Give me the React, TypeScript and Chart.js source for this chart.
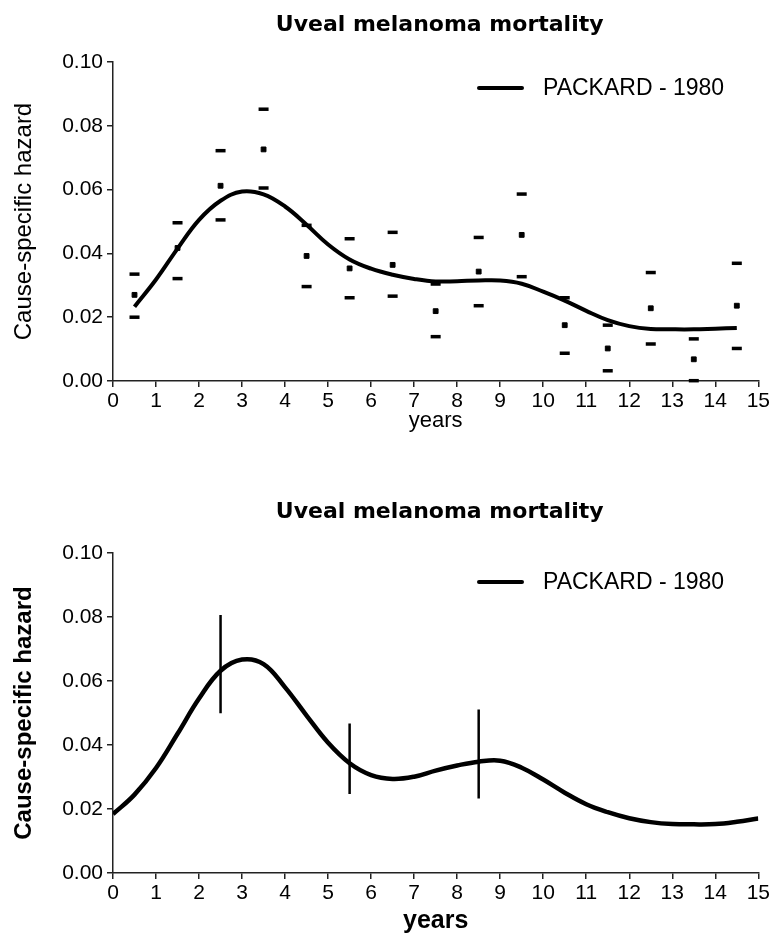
import React, { useEffect, useRef } from 'react';
import { Chart, registerables } from 'chart.js';

Chart.register(...registerables);

// ---------- DATA ----------
const chartTitle = 'Uveal melanoma mortality';
const legendLabel = 'PACKARD - 1980';
const xAxisLabel = 'years';
const yAxisLabel = 'Cause-specific hazard';

// Top chart: yearly estimates with upper/lower limits
const intervalYears = [0.5, 1.5, 2.5, 3.5, 4.5, 5.5, 6.5, 7.5, 8.5, 9.5, 10.5, 11.5, 12.5, 13.5, 14.5];
const upperTop = [0.0335, 0.0496, 0.0722, 0.0852, 0.0488, 0.0446, 0.0466, 0.0304, 0.045, 0.0586, 0.0261, 0.0175, 0.034, 0.0132, 0.0369];
const estimateTop = [0.027, 0.0417, 0.0612, 0.0726, 0.0392, 0.0353, 0.0364, 0.0219, 0.0343, 0.0458, 0.0175, 0.0102, 0.0228, 0.0068, 0.0236];
const lowerTop = [0.02, 0.0321, 0.0505, 0.0605, 0.0296, 0.0261, 0.0266, 0.0139, 0.0236, 0.0327, 0.0087, 0.0032, 0.0116, 0.0001, 0.0102];

// Top chart: smoothed hazard curve
const curveTopYears = [0.5, 1, 1.5, 2, 2.5, 3, 3.5, 4, 4.5, 5, 5.5, 6, 6.5, 7, 7.5, 8, 8.5, 9, 9.5, 10, 10.5, 11, 11.5, 12, 12.5, 13, 13.5, 14, 14.5];
const curveTopValues = [0.0233, 0.0318, 0.0415, 0.0505, 0.0565, 0.0594, 0.0585, 0.0547, 0.049, 0.0428, 0.0381, 0.0352, 0.0333, 0.032, 0.0312, 0.0313, 0.0315, 0.0315, 0.0305, 0.028, 0.0252, 0.022, 0.0191, 0.0172, 0.0163, 0.0162, 0.0162, 0.0164, 0.0166];

// Bottom chart: smoothed hazard curve
const curveBottomYears = [0, 0.5, 1, 1.5, 2, 2.5, 3, 3.5, 4, 4.5, 5, 5.5, 6, 6.5, 7, 7.5, 8, 8.5, 9, 9.5, 10, 10.5, 11, 11.5, 12, 12.5, 13, 13.5, 14, 14.5, 15];
const curveBottomValues = [0.0184, 0.0245, 0.0328, 0.0435, 0.0545, 0.0632, 0.0667, 0.0653, 0.058, 0.0492, 0.0407, 0.0343, 0.0306, 0.0294, 0.0301, 0.032, 0.0336, 0.0348, 0.0351, 0.0329, 0.0292, 0.0251, 0.0215, 0.019, 0.0171, 0.0159, 0.0153, 0.0152, 0.0153, 0.016, 0.017];

// Bottom chart: confidence bars
const barYears = [2.5, 5.5, 8.5];
const barLow = [0.0499, 0.0247, 0.0233];
const barHigh = [0.0806, 0.0467, 0.0511];

// Axis ticks
const xMin = 0;
const xMax = 15;
const xStep = 1;
const yMin = 0;
const yMax = 0.1;
const yStep = 0.02;

// ---------- STYLE ----------
const SANS = '"Liberation Sans", Arial, sans-serif';
const TITLE_FONT = '"DejaVu Sans", Verdana, sans-serif';

function overlayPlugin(titleY: number, legendY: number) {
  return {
    id: 'overlay',
    afterDraw(chart: any) {
      const ctx = chart.ctx;
      const a = chart.chartArea;
      ctx.save();
      ctx.fillStyle = '#000';
      ctx.font = 'bold 22px ' + TITLE_FONT;
      ctx.textAlign = 'center';
      ctx.textBaseline = 'middle';
      ctx.fillText(chartTitle, (a.left + a.right) / 2 + 4, titleY);
      ctx.strokeStyle = '#000';
      ctx.lineWidth = 4;
      ctx.lineCap = 'round';
      ctx.beginPath();
      ctx.moveTo(479, legendY);
      ctx.lineTo(522, legendY);
      ctx.stroke();
      ctx.font = '23px ' + SANS;
      ctx.textAlign = 'left';
      ctx.fillText(legendLabel, 543, legendY + 1);
      ctx.restore();
    },
  };
}

function baseScales(bold: boolean, xHeight: number, xTitlePad: number, yTitlePad: number) {
  return {
    x: {
      type: 'linear',
      min: xMin,
      max: xMax,
      afterFit: (s: any) => { s.height = xHeight; },
      ticks: { stepSize: xStep, color: '#000', font: { family: SANS, size: 21 }, padding: 2, maxRotation: 0, autoSkip: false, callback: (v: number) => String(v) },
      grid: { drawOnChartArea: false, drawTicks: true, tickLength: 6, color: '#222', lineWidth: 1.5 },
      border: { display: true, color: '#222', width: 1.5 },
      title: { display: true, text: xAxisLabel, color: '#000', font: { family: SANS, size: bold ? 25 : 22, weight: bold ? 'bold' : 'normal' }, padding: { top: 0, bottom: xTitlePad } },
    },
    y: {
      type: 'linear',
      min: yMin,
      max: yMax,
      afterFit: (s: any) => { s.width = 113; },
      ticks: { stepSize: yStep, color: '#000', font: { family: SANS, size: 21 }, padding: 4, callback: (v: number) => v.toFixed(2) },
      grid: { drawOnChartArea: false, drawTicks: true, tickLength: 6, color: '#222', lineWidth: 1.5 },
      border: { display: true, color: '#222', width: 1.5 },
      title: { display: true, text: yAxisLabel, color: '#000', font: { family: SANS, size: 24, weight: bold ? 'bold' : 'normal' }, padding: { top: yTitlePad, bottom: 0 } },
    },
  };
}

function TopChart() {
  const ref = useRef<HTMLCanvasElement>(null);
  useEffect(() => {
    const pts = (ys: number[]) => intervalYears.map((x, i) => ({ x, y: ys[i] }));
    const chart = new Chart(ref.current as HTMLCanvasElement, {
      type: 'scatter',
      data: {
        datasets: [
          {
            label: legendLabel,
            data: curveTopYears.map((x, i) => ({ x, y: curveTopValues[i] })),
            showLine: true,
            borderColor: '#000',
            borderWidth: 4,
            pointRadius: 0,
            tension: 0.4,
          },
          { label: 'upper', data: pts(upperTop), pointStyle: 'line', pointRadius: 5, borderWidth: 3.5, borderColor: '#000', clip: false },
          { label: 'estimate', data: pts(estimateTop), pointStyle: 'rect', pointRadius: 3.4, borderWidth: 1, borderColor: '#000', backgroundColor: '#000', clip: false },
          { label: 'lower', data: pts(lowerTop), pointStyle: 'line', pointRadius: 5, borderWidth: 3.5, borderColor: '#000', clip: false },
        ],
      },
      options: {
        animation: false,
        responsive: false,
        maintainAspectRatio: false,
        layout: { padding: { left: 0, right: 11, top: 62, bottom: 0 } },
        plugins: { legend: { display: false }, title: { display: false }, tooltip: { enabled: false } },
        scales: baseScales(false, 79, 26, 10) as any,
      },
      plugins: [overlayPlugin(25, 88)],
    } as any);
    return () => chart.destroy();
  }, []);
  return <canvas ref={ref} width={772} height={460} style={{ position: 'absolute', left: 0, top: 0, width: 772, height: 460 }} />;
}

function BottomChart() {
  const ref = useRef<HTMLCanvasElement>(null);
  useEffect(() => {
    const barData: any[] = [];
    barYears.forEach((x, i) => {
      barData.push({ x, y: barLow[i] });
      barData.push({ x, y: barHigh[i] });
      barData.push({ x, y: null });
    });
    const chart = new Chart(ref.current as HTMLCanvasElement, {
      type: 'scatter',
      data: {
        datasets: [
          {
            label: legendLabel,
            data: curveBottomYears.map((x, i) => ({ x, y: curveBottomValues[i] })),
            showLine: true,
            borderColor: '#000',
            borderWidth: 4.5,
            pointRadius: 0,
            tension: 0.4,
          },
          {
            label: 'interval',
            data: barData,
            showLine: true,
            spanGaps: false,
            borderColor: '#000',
            borderWidth: 2.5,
            pointRadius: 0,
          },
        ],
      },
      options: {
        animation: false,
        responsive: false,
        maintainAspectRatio: false,
        layout: { padding: { left: 0, right: 11, top: 93, bottom: 0 } },
        plugins: { legend: { display: false }, title: { display: false }, tooltip: { enabled: false } },
        scales: baseScales(true, 66, 3, 10) as any,
      },
      plugins: [overlayPlugin(52, 122)],
    } as any);
    return () => chart.destroy();
  }, []);
  return <canvas ref={ref} width={772} height={479} style={{ position: 'absolute', left: 0, top: 460, width: 772, height: 479 }} />;
}

export default function App() {
  return (
    <div style={{ position: 'absolute', left: 0, top: 0, width: 772, height: 939, background: '#fff' }}>
      <TopChart />
      <BottomChart />
    </div>
  );
}
